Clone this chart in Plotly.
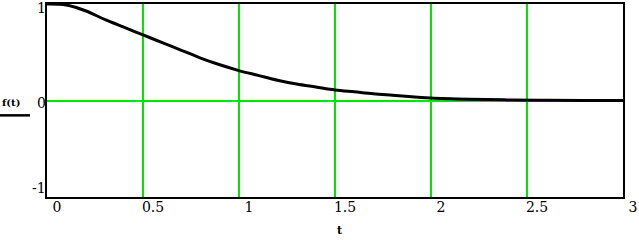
import plotly.graph_objects as go

t_vals = [0.0, 0.1, 0.2, 0.3, 0.4, 0.5, 0.6, 0.7, 0.8, 0.9, 1.0, 1.1, 1.2, 1.3,
          1.4, 1.5, 1.6, 1.7, 1.8, 1.9, 2.0, 2.2, 2.4, 2.6, 2.8, 3.0]
f_vals = [1.0, 0.99, 0.93, 0.84, 0.76, 0.68, 0.60, 0.52, 0.44, 0.37, 0.31, 0.26,
          0.21, 0.17, 0.14, 0.11, 0.09, 0.07, 0.055, 0.04, 0.025, 0.012, 0.006,
          0.003, 0.001, 0.0]

x_ticks = [0, 0.5, 1, 1.5, 2, 2.5, 3]
x_ticklabels = ["0", "0.5", "1", "1.5", "2", "2.5", "3"]
y_ticks = [-1, 0, 1]
y_ticklabels = ["-1", "0", "1"]

GREEN = "#00e600"
FONT = "DejaVu Serif"

fig = go.Figure()
fig.add_trace(go.Scatter(x=t_vals, y=f_vals, mode="lines",
                         line=dict(color="black", width=3, shape="spline"),
                         showlegend=False, hoverinfo="skip"))

fig.update_layout(
    width=639, height=240,
    margin=dict(l=47, r=16, t=2, b=43),
    paper_bgcolor="white", plot_bgcolor="white",
    font=dict(family=FONT, size=14, color="black"),
)
fig.update_xaxes(
    range=[0, 3], tickvals=x_ticks, ticktext=x_ticklabels,
    showgrid=True, gridcolor=GREEN, gridwidth=2,
    zeroline=False, showline=True, linecolor="black", linewidth=2, mirror=True,
    ticks="", ticklabelshift=10, ticklabelstandoff=-4,
    tickfont=dict(family=FONT, size=14, color="black"),
)
fig.update_yaxes(
    range=[-1, 1], tickvals=y_ticks,
    showgrid=False, zeroline=True, zerolinecolor=GREEN, zerolinewidth=2,
    showline=True, linecolor="black", linewidth=2, mirror=True,
    ticks="", showticklabels=False,
)

# y tick labels placed on the y scale (Mathcad-style alignment)
yshifts = {1: -4, 0: -2, -1: 9}
for v, lab in zip(y_ticks, y_ticklabels):
    fig.add_annotation(text=lab, xref="paper", yref="y", x=0, y=v,
                       xanchor="right", yanchor="middle", xshift=1,
                       yshift=yshifts[v], showarrow=False,
                       font=dict(family=FONT, size=14, color="black"))

# trace label with line sample (Mathcad style)
fig.add_annotation(text="<b>f(t)</b>", xref="paper", yref="paper",
                   x=-25/576, y=0.49, xanchor="right", yanchor="middle",
                   showarrow=False, font=dict(family=FONT, size=10, color="black"))
fig.add_shape(type="line", xref="paper", yref="paper",
              x0=-47/576, x1=-17/576, y0=(197-114.5)/195, y1=(197-114.5)/195,
              line=dict(color="black", width=2.5))
fig.add_annotation(text="<b>t</b>", xref="paper", yref="paper",
                   x=(340-47)/576, y=-(231-197)/195, xanchor="center", yanchor="middle",
                   showarrow=False, font=dict(family=FONT, size=11, color="black"))

fig.write_html("out.html")
